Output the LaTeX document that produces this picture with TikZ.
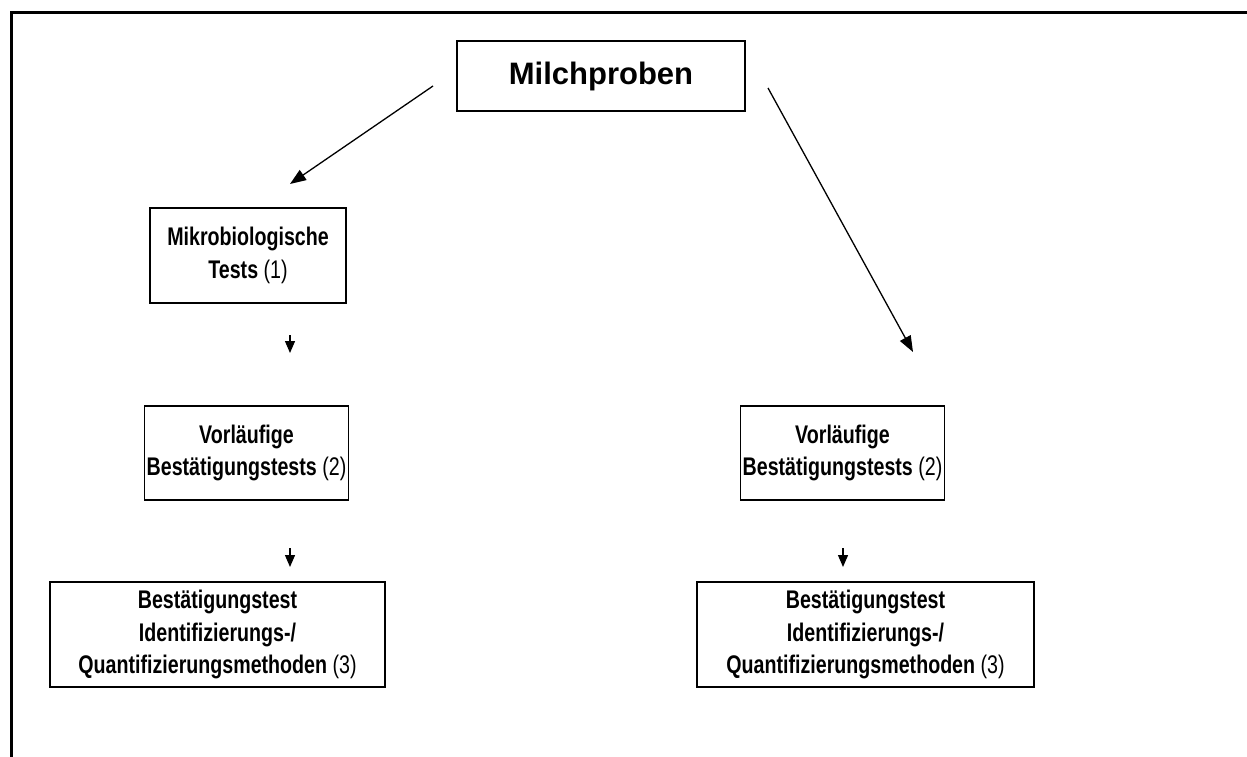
\documentclass[tikz,border=0pt]{standalone}
\usepackage{fontspec}
\setmainfont{Liberation Sans}
\newfontfamily\narrowfont[FakeStretch=0.77]{Liberation Sans}
\usetikzlibrary{arrows.meta}
\begin{document}
\begin{tikzpicture}[x=1pt,y=-1pt,
  boxnode/.style={draw,line width=1.5pt,align=center,inner xsep=2pt,inner ysep=0pt,
    font=\narrowfont\fontsize{25.5}{32.5}\selectfont},
  bigarrow/.style={line width=1.3pt,-{Triangle[length=16pt,width=12pt]}},
  smallarrow/.style={line width=1.3pt,-{Triangle[length=12pt,width=10pt]}}]
\useasboundingbox (0,0) rectangle (1247,757);
\draw[line width=3pt] (11,760) -- (11,13) -- (1250,13);
\node[boxnode,minimum width=288pt,minimum height=70pt,font=\fontsize{31}{36}\selectfont] (milch) at (601,76) {\textbf{Milchproben}};
\node[boxnode,minimum width=196pt,minimum height=95pt] (mikro) at (248,255.5) {\textbf{Mikrobiologische}\\\textbf{Tests} (1)};
\node[boxnode,minimum width=197pt,minimum height=94pt] (vorl) at (246.5,453) {\textbf{Vorläufige}\\\textbf{Bestätigungstests} (2)};
\node[boxnode,minimum width=195pt,minimum height=94pt] (vorr) at (842.5,453) {\textbf{Vorläufige}\\\textbf{Bestätigungstests} (2)};
\node[boxnode,minimum width=335pt,minimum height=105pt] (bestl) at (217.5,634.5) {\textbf{Bestätigungstest}\\\textbf{Identifizierungs-/}\\\textbf{Quantifizierungsmethoden} (3)};
\node[boxnode,minimum width=337pt,minimum height=105pt] (bestr) at (865.5,634.5) {\textbf{Bestätigungstest}\\\textbf{Identifizierungs-/}\\\textbf{Quantifizierungsmethoden} (3)};
\coordinate (a1s) at (433,86);
\coordinate (a1e) at (290,184);
\coordinate (a2s) at (768,88);
\coordinate (a2e) at (913,352);
\coordinate (a3s) at (290,335);
\coordinate (a3e) at (290,353);
\coordinate (a4s) at (290,548);
\coordinate (a4e) at (290,567);
\coordinate (a5s) at (843,548);
\coordinate (a5e) at (843,567);
\draw[bigarrow] (a1s) -- (a1e);
\draw[bigarrow] (a2s) -- (a2e);
\draw[smallarrow] (a3s) -- (a3e);
\draw[smallarrow] (a4s) -- (a4e);
\draw[smallarrow] (a5s) -- (a5e);
\end{tikzpicture}
\end{document}
